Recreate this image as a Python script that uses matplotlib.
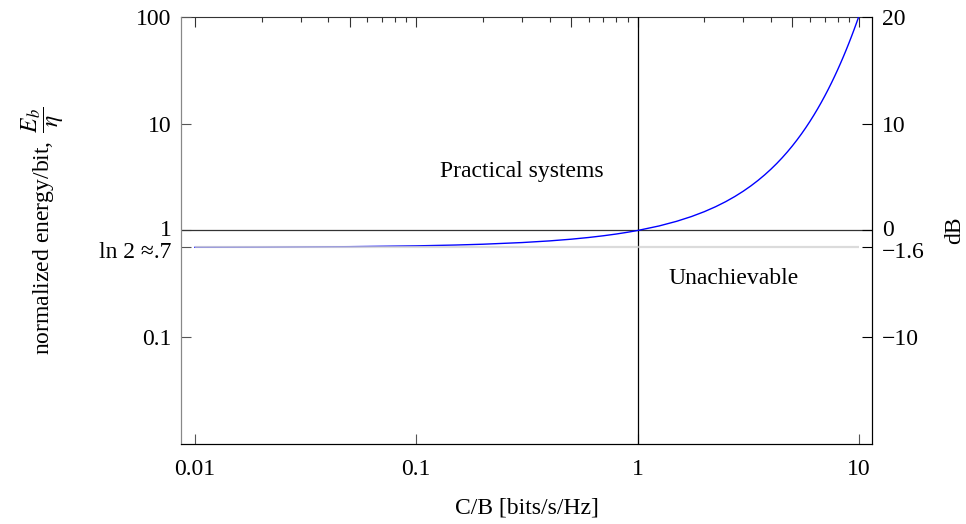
import numpy as np
import matplotlib
matplotlib.use("Agg")
import matplotlib.pyplot as plt
from matplotlib.ticker import FixedLocator, NullFormatter, NullLocator
from matplotlib.transforms import ScaledTranslation

plt.rcParams['font.family'] = ['Liberation Serif', 'DejaVu Serif']
plt.rcParams['mathtext.fontset'] = 'stix'

# spectral efficiency C/B [bits/s/Hz] and the minimum normalized energy per bit
spectral_eff = [0.01, 0.02, 0.05, 0.1, 0.15, 0.2, 0.3, 0.4, 0.5, 0.6, 0.7, 0.8,
                0.9, 1.0, 1.25, 1.5, 1.75, 2.0, 2.25, 2.5, 2.75, 3.0, 3.25, 3.5,
                3.75, 4.0, 4.25, 4.5, 4.75, 5.0, 5.25, 5.5, 5.75, 6.0, 6.25,
                6.5, 6.75, 7.0, 7.25, 7.5, 7.75, 8.0, 8.25, 8.5, 8.75, 9.0,
                9.25, 9.5, 9.75, 10.0]
energy_per_bit = [0.6956, 0.698, 0.7053, 0.7177, 0.7305, 0.7435, 0.7705, 0.7988,
                  0.8284, 0.8595, 0.8922, 0.9264, 0.9624, 1.0, 1.1027, 1.219,
                  1.3506, 1.5, 1.6697, 1.8627, 2.0826, 2.3333, 2.6196, 2.9469,
                  3.3211, 3.75, 4.2417, 4.806, 5.4545, 6.2, 7.058, 8.0455,
                  9.1856, 10.5, 12.0175, 13.7706, 15.798, 18.143, 20.858,
                  24.003, 27.648, 31.875, 36.78, 42.475, 49.09, 56.778, 65.716,
                  76.114, 88.213, 102.3]

shannon_limit = 0.6931          # ln 2
left_ticks = [100, 10, 1, shannon_limit, 0.1]
left_labels = ["100", "10", "1", "ln 2 \u2248.7", "0.1"]
x_ticks = [0.01, 0.1, 1, 10]
x_labels = ["0.01", "0.1", "1", "10"]
top_major = [0.01, 0.05, 0.1, 0.5, 1, 5, 10]

FS = 17

fig = plt.figure(figsize=(9.66, 5.24), dpi=100)
ax = fig.add_axes([0.1874, 0.1527, 0.7153, 0.8149])

ax.set_xscale('log')
ax.set_yscale('log')
ax.set_xlim(0.00865, 11.45)
ax.set_ylim(0.01, 100)

ax.plot(spectral_eff, energy_per_bit, color='#0000ff', lw=1.0, zorder=3)
ax.plot([0.01, 10], [shannon_limit, shannon_limit], color='#d0d0d0', lw=1.6,
        alpha=0.75, zorder=4, solid_capstyle='butt')
ax.axhline(1, color='#333333', lw=0.9, zorder=2)
ax.axvline(1, color='black', lw=0.9, zorder=2)

ax.text(0.30, 3.57, "Practical systems", fontsize=FS, ha='center', va='center')
ax.text(2.72, 0.355, "Unachievable", fontsize=FS, ha='center', va='center')

# bottom axis
ax.xaxis.set_major_locator(FixedLocator(x_ticks))
ax.set_xticklabels(x_labels)
ax.xaxis.set_minor_locator(NullLocator())
ax.tick_params(axis='x', which='major', direction='in', length=7, width=0.8,
               labelsize=FS, pad=11, top=False, color='#555555')

# top axis with minor ticks
axt = ax.secondary_xaxis('top')
minor_top = [m * d for d in (0.01, 0.1, 1) for m in range(2, 10) if m != 5]
axt.xaxis.set_major_locator(FixedLocator(top_major))
axt.xaxis.set_minor_locator(FixedLocator(minor_top))
axt.xaxis.set_major_formatter(NullFormatter())
axt.xaxis.set_minor_formatter(NullFormatter())
axt.tick_params(which='major', direction='in', length=7, width=0.8, color='#333333')
axt.tick_params(which='minor', direction='in', length=3.5, width=0.8, color='#333333')
axt.spines['top'].set_color('#333333')

# left axis
ax.yaxis.set_major_locator(FixedLocator(left_ticks))
ax.set_yticklabels(left_labels)
ax.yaxis.set_minor_locator(NullLocator())
ax.tick_params(axis='y', which='major', direction='in', length=7, width=0.8,
               labelsize=FS, pad=7, color='#555555')

# right axis in dB
ax2 = ax.twinx()
ax2.set_yscale('log')
ax2.set_ylim(ax.get_ylim())
ax2.yaxis.set_major_locator(FixedLocator(left_ticks))
db_labels = []
for v in left_ticks:
    db = 10 * np.log10(v)
    txt = f"{db:.0f}" if abs(db - round(db)) < 1e-6 else f"{db:.1f}"
    db_labels.append(txt.replace('-', '\u2212'))
ax2.set_yticklabels(db_labels)
ax2.yaxis.set_minor_locator(NullLocator())
ax2.tick_params(axis='y', which='major', direction='in', length=7, width=0.8,
                labelsize=FS, pad=7)
ax2.set_ylabel("dB", fontsize=FS)
ax2.yaxis.label.set_va('center')
ax2.yaxis.set_label_coords(1.12, 0.5)

for a in (ax, ax2):
    a.spines['left'].set_color('#888888')
    a.spines['top'].set_visible(False)

ax.set_xlabel("C/B [bits/s/Hz]", fontsize=FS)
ax.xaxis.label.set_va('center')
ax.xaxis.set_label_coords(0.5, -0.15)
ax.set_ylabel(r"normalized energy/bit, $\,\dfrac{E_b}{\eta}$", fontsize=FS)
ax.yaxis.label.set_va('center')
ax.yaxis.set_label_coords(-0.20, 0.5)

# the "1"/"0" and ln 2 labels sit close together: ease them apart slightly
fig.canvas.draw()
for a in (ax, ax2):
    ticks = a.yaxis.get_major_ticks()
    for idx, dy in ((2, 2.0), (3, -1.5)):
        for lab in (ticks[idx].label1, ticks[idx].label2):
            lab.set_transform(lab.get_transform() +
                              ScaledTranslation(0, dy / 72, fig.dpi_scale_trans))

fig.savefig("out.png", dpi=100)
